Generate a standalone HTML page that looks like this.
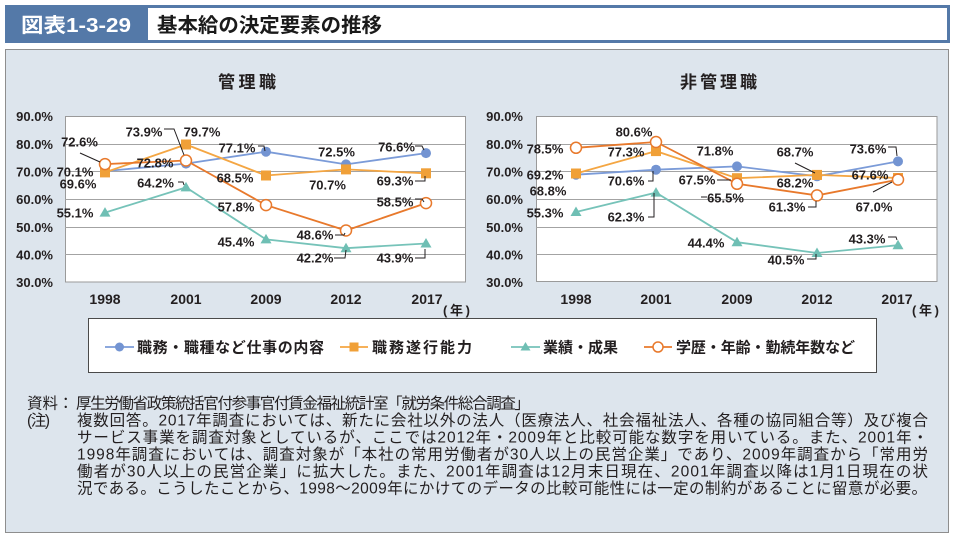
<!DOCTYPE html>
<html><head><meta charset="utf-8"><style>
html,body{margin:0;padding:0;background:#fff;}
svg{display:block;}
.t{font-family:"Liberation Sans","Noto Sans CJK JP",sans-serif;}
.n{font-family:"Liberation Sans",sans-serif;font-weight:bold;font-size:13px;fill:#231f20;}
.yl{font-family:"Liberation Sans",sans-serif;font-weight:bold;font-size:13px;fill:#231f20;text-anchor:end;}
.xl{font-family:"Liberation Sans",sans-serif;font-weight:bold;font-size:14px;fill:#231f20;text-anchor:middle;}
.j{font-family:"Liberation Sans","Noto Sans CJK JP",sans-serif;font-size:15.5px;fill:#231f20;}
.g{stroke:#a3a3a3;stroke-width:1;}
.ld{stroke:#231f20;stroke-width:1;fill:none;}
</style></head><body>
<svg width="956" height="539" viewBox="0 0 956 539" xmlns="http://www.w3.org/2000/svg">
<!-- header -->
<rect x="6.5" y="6.5" width="942" height="35" fill="#fff" stroke="#5479a8" stroke-width="3"/>
<rect x="5" y="5" width="143" height="38" fill="#5479a8"/>
<text x="21" y="32" class="t" font-size="20" font-weight="bold" fill="#fff" textLength="110" lengthAdjust="spacingAndGlyphs">図表1-3-29</text>
<text x="157" y="32" class="t" font-size="20" font-weight="bold" fill="#1a1a1a" textLength="225" lengthAdjust="spacingAndGlyphs">基本給の決定要素の推移</text>
<!-- panel -->
<rect x="5.5" y="49.5" width="943" height="483" fill="#dde5ed" stroke="#8e8e8e" stroke-width="1"/>
<text x="218" y="88" class="t" font-size="17" font-weight="bold" fill="#231f20" textLength="58">管理職</text>
<text x="680" y="88" class="t" font-size="17" font-weight="bold" fill="#231f20" textLength="77">非管理職</text>

<!-- LEFT CHART -->
<rect x="65.5" y="116.5" width="400" height="165.5" fill="#fff" stroke="#9a9a9a"/>
<line class="g" x1="65" x2="465" y1="144.5" y2="144.5"/>
<line class="g" x1="65" x2="465" y1="171.5" y2="171.5"/>
<line class="g" x1="65" x2="465" y1="199.5" y2="199.5"/>
<line class="g" x1="65" x2="465" y1="227.5" y2="227.5"/>
<line class="g" x1="65" x2="465" y1="254.5" y2="254.5"/>
<text class="yl" x="53" y="121">90.0%</text>
<text class="yl" x="53" y="149">80.0%</text>
<text class="yl" x="53" y="176.5">70.0%</text>
<text class="yl" x="53" y="204">60.0%</text>
<text class="yl" x="53" y="232">50.0%</text>
<text class="yl" x="53" y="259.5">40.0%</text>
<text class="yl" x="53" y="287">30.0%</text>
<text class="xl" x="105" y="304">1998</text>
<text class="xl" x="186" y="304">2001</text>
<text class="xl" x="266" y="304">2009</text>
<text class="xl" x="346" y="304">2012</text>
<text class="xl" x="427" y="304">2017</text>
<text x="443" y="315" class="t" font-size="13" font-weight="bold" fill="#231f20" textLength="27">(年)</text>
<!-- series -->
<polyline fill="none" stroke="#7b9bd8" stroke-width="1.8" points="105,171.1 186,163.6 266,151.7 346,164.4 426,153.1"/>
<g fill="#7394d2"><circle cx="105" cy="171.1" r="5"/><circle cx="186" cy="163.6" r="5"/><circle cx="266" cy="151.7" r="5"/><circle cx="346" cy="164.4" r="5"/><circle cx="426" cy="153.1" r="5"/></g>
<polyline fill="none" stroke="#f4a643" stroke-width="1.8" points="105,172.4 186,144.5 266,175.5 346,169.4 426,173.3"/>
<g fill="#f0a038"><rect x="100" y="167.4" width="10" height="10"/><rect x="181" y="139.5" width="10" height="10"/><rect x="261" y="170.5" width="10" height="10"/><rect x="341" y="164.4" width="10" height="10"/><rect x="421" y="168.3" width="10" height="10"/></g>
<polyline fill="none" stroke="#76c3b9" stroke-width="1.8" points="105,212.6 186,187.4 266,239.4 346,248.2 426,243.5"/>
<g fill="#6fbfb4"><polygon points="105,207.1 99.5,216.6 110.5,216.6"/><polygon points="186,181.9 180.5,191.4 191.5,191.4"/><polygon points="266,233.9 260.5,243.4 271.5,243.4"/><polygon points="346,242.7 340.5,252.2 351.5,252.2"/><polygon points="426,238 420.5,247.5 431.5,247.5"/></g>
<polyline fill="none" stroke="#e8792c" stroke-width="1.8" points="105,164.1 186,160.5 266,205.1 346,230.5 426,203.1"/>
<g fill="#fff" stroke="#e8792c" stroke-width="1.5"><circle cx="105" cy="164.1" r="5.5"/><circle cx="186" cy="160.5" r="5.5"/><circle cx="266" cy="205.1" r="5.5"/><circle cx="346" cy="230.5" r="5.5"/><circle cx="426" cy="203.1" r="5.5"/></g>
<!-- leaders -->
<line class="ld" x1="80" y1="153" x2="100" y2="162"/>
<polyline class="ld" points="164,129 174,129 184,155"/>
<polyline class="ld" points="178,182 183,182 184,185"/>
<polyline class="ld" points="258,146 264,146 265,151"/>
<polyline class="ld" points="335,235 344,235 345,233"/>
<polyline class="ld" points="334,258 345,258 346,250"/>
<polyline class="ld" points="415,146 422,146 424,150"/>
<polyline class="ld" points="415,181 425,181 425,176"/>
<polyline class="ld" points="415,199 422,199 424,202"/>
<polyline class="ld" points="415,258 425,258 425,249"/>
<!-- labels -->
<g class="n" text-anchor="middle">
<text x="79.5" y="146.5">72.6%</text>
<text x="75" y="176.5">70.1%</text>
<text x="78" y="188.5">69.6%</text>
<text x="75" y="217.5">55.1%</text>
<text x="155" y="167.5">72.8%</text>
<text x="144" y="136.5">73.9%</text>
<text x="202" y="136.5">79.7%</text>
<text x="155.5" y="187.5">64.2%</text>
<text x="237" y="152.5">77.1%</text>
<text x="235" y="182.5">68.5%</text>
<text x="236" y="211.5">57.8%</text>
<text x="236" y="246.5">45.4%</text>
<text x="336.5" y="156.5">72.5%</text>
<text x="327.5" y="189.5">70.7%</text>
<text x="315" y="239.5">48.6%</text>
<text x="315" y="262.5">42.2%</text>
<text x="396.5" y="151.5">76.6%</text>
<text x="395" y="185.5">69.3%</text>
<text x="395" y="206.5">58.5%</text>
<text x="395" y="262.5">43.9%</text>
</g>

<!-- RIGHT CHART -->
<rect x="536.5" y="116.5" width="400.5" height="165" fill="#fff" stroke="#9a9a9a"/>
<line class="g" x1="536" x2="937" y1="144.5" y2="144.5"/>
<line class="g" x1="536" x2="937" y1="171.5" y2="171.5"/>
<line class="g" x1="536" x2="937" y1="199.5" y2="199.5"/>
<line class="g" x1="536" x2="937" y1="227.5" y2="227.5"/>
<line class="g" x1="536" x2="937" y1="254.5" y2="254.5"/>
<text class="yl" x="523" y="121">90.0%</text>
<text class="yl" x="523" y="149">80.0%</text>
<text class="yl" x="523" y="176.5">70.0%</text>
<text class="yl" x="523" y="204">60.0%</text>
<text class="yl" x="523" y="232">50.0%</text>
<text class="yl" x="523" y="259.5">40.0%</text>
<text class="yl" x="523" y="287">30.0%</text>
<text class="xl" x="576" y="304">1998</text>
<text class="xl" x="656" y="304">2001</text>
<text class="xl" x="737" y="304">2009</text>
<text class="xl" x="817" y="304">2012</text>
<text class="xl" x="897" y="304">2017</text>
<text x="912" y="315" class="t" font-size="13" font-weight="bold" fill="#231f20" textLength="27">(年)</text>
<polyline fill="none" stroke="#7b9bd8" stroke-width="1.8" points="576,174.7 656,169.7 737,166.4 817,176.3 898,161.4"/>
<g fill="#7394d2"><circle cx="576" cy="174.7" r="5"/><circle cx="656" cy="169.7" r="5"/><circle cx="737" cy="166.4" r="5"/><circle cx="817" cy="176.3" r="5"/><circle cx="898" cy="161.4" r="5"/></g>
<polyline fill="none" stroke="#f4a643" stroke-width="1.8" points="576,173.5 656,151.1 737,178.2 817,174.9 898,178"/>
<g fill="#f0a038"><rect x="571" y="168.5" width="10" height="10"/><rect x="651" y="146.1" width="10" height="10"/><rect x="732" y="173.2" width="10" height="10"/><rect x="812" y="169.9" width="10" height="10"/><rect x="893" y="173" width="10" height="10"/></g>
<polyline fill="none" stroke="#76c3b9" stroke-width="1.8" points="576,212 656,192.6 737,242.2 817,253 898,245.2"/>
<g fill="#6fbfb4"><polygon points="576,206.5 570.5,216 581.5,216"/><polygon points="656,187.1 650.5,196.6 661.5,196.6"/><polygon points="737,236.7 731.5,246.2 742.5,246.2"/><polygon points="817,247.5 811.5,257 822.5,257"/><polygon points="898,239.7 892.5,249.2 903.5,249.2"/></g>
<polyline fill="none" stroke="#e8792c" stroke-width="1.8" points="576,147.8 656,142 737,183.8 817,195.4 898,179.6"/>
<g fill="#fff" stroke="#e8792c" stroke-width="1.5"><circle cx="576" cy="147.8" r="5.5"/><circle cx="656" cy="142" r="5.5"/><circle cx="737" cy="183.8" r="5.5"/><circle cx="817" cy="195.4" r="5.5"/><circle cx="898" cy="179.6" r="5.5"/></g>
<polyline class="ld" points="648,181 653,181 653,171"/>
<polyline class="ld" points="648,217 654,217 654,193"/>
<line class="ld" x1="717" y1="180" x2="731" y2="180"/>
<line class="ld" x1="701" y1="197" x2="707" y2="197"/>
<line class="ld" x1="795" y1="163" x2="815" y2="173"/>
<polyline class="ld" points="808,207 816,207 816,201"/>
<polyline class="ld" points="807,259 816,259 816,254"/>
<polyline class="ld" points="888,147 896,147 897,156"/>
<line class="ld" x1="873" y1="192" x2="892" y2="182"/>
<polyline class="ld" points="888,237 896,237 897,240"/>
<g class="n" text-anchor="middle">
<text x="545" y="153.5">78.5%</text>
<text x="545" y="179.5">69.2%</text>
<text x="548" y="195.5">68.8%</text>
<text x="545" y="217.5">55.3%</text>
<text x="634" y="136.5">80.6%</text>
<text x="626" y="156.5">77.3%</text>
<text x="626" y="185.5">70.6%</text>
<text x="626" y="221.5">62.3%</text>
<text x="715" y="155.5">71.8%</text>
<text x="697" y="184.5">67.5%</text>
<text x="725.5" y="202.5">65.5%</text>
<text x="706" y="247.5">44.4%</text>
<text x="795" y="156.5">68.7%</text>
<text x="795" y="187.5">68.2%</text>
<text x="787" y="211.5">61.3%</text>
<text x="786" y="264.5">40.5%</text>
<text x="868" y="153.5">73.6%</text>
<text x="870" y="179.5">67.6%</text>
<text x="874" y="211.5">67.0%</text>
<text x="867" y="243.5">43.3%</text>
</g>

<!-- legend -->
<rect x="88.5" y="318.5" width="788" height="54" fill="#fff" stroke="#4a4a4a"/>
<line x1="105" y1="347" x2="134" y2="347" stroke="#7b9bd8" stroke-width="1.8"/>
<circle cx="119.5" cy="347" r="4.5" fill="#7394d2"/>
<text x="137" y="352.5" class="t" font-size="15" font-weight="bold" fill="#231f20" textLength="187">職務・職種など仕事の内容</text>
<line x1="340" y1="347" x2="368" y2="347" stroke="#f4a643" stroke-width="1.8"/>
<rect x="349.5" y="342.5" width="9" height="9" fill="#f0a038"/>
<text x="372" y="352.5" class="t" font-size="15" font-weight="bold" fill="#231f20" textLength="100">職務遂行能力</text>
<line x1="511" y1="347" x2="540" y2="347" stroke="#76c3b9" stroke-width="1.8"/>
<polygon points="525.5,342 520.5,350.5 530.5,350.5" fill="#6fbfb4"/>
<text x="543" y="352.5" class="t" font-size="15" font-weight="bold" fill="#231f20" textLength="75">業績・成果</text>
<line x1="644" y1="347" x2="672" y2="347" stroke="#e8792c" stroke-width="1.8"/>
<circle cx="658" cy="347" r="5" fill="#fff" stroke="#e8792c" stroke-width="1.5"/>
<text x="676" y="352.5" class="t" font-size="15" font-weight="bold" fill="#231f20" textLength="179">学歴・年齢・勤続年数など</text>

<!-- notes -->
<text class="j" x="27" y="408.5">資料：</text>
<text class="j" x="76" y="408.5" textLength="454" lengthAdjust="spacing">厚生労働省政策統括官付参事官付賃金福祉統計室「就労条件総合調査」</text>
<text class="j" x="27" y="425.5" textLength="23">(注)</text>
<text class="j" x="77" y="425.5" textLength="851" lengthAdjust="spacing">複数回答。2017年調査においては、新たに会社以外の法人（医療法人、社会福祉法人、各種の協同組合等）及び複合</text>
<text class="j" x="77" y="442.5" textLength="851" lengthAdjust="spacing">サービス事業を調査対象としているが、ここでは2012年・2009年と比較可能な数字を用いている。また、2001年・</text>
<text class="j" x="77" y="459.5" textLength="851" lengthAdjust="spacing">1998年調査においては、調査対象が「本社の常用労働者が30人以上の民営企業」であり、2009年調査から「常用労</text>
<text class="j" x="77" y="476.5" textLength="851" lengthAdjust="spacing">働者が30人以上の民営企業」に拡大した。また、2001年調査は12月末日現在、2001年調査以降は1月1日現在の状</text>
<text class="j" x="77" y="493.5" textLength="850" lengthAdjust="spacing">況である。こうしたことから、1998～2009年にかけてのデータの比較可能性には一定の制約があることに留意が必要。</text>
</svg>
</body></html>
